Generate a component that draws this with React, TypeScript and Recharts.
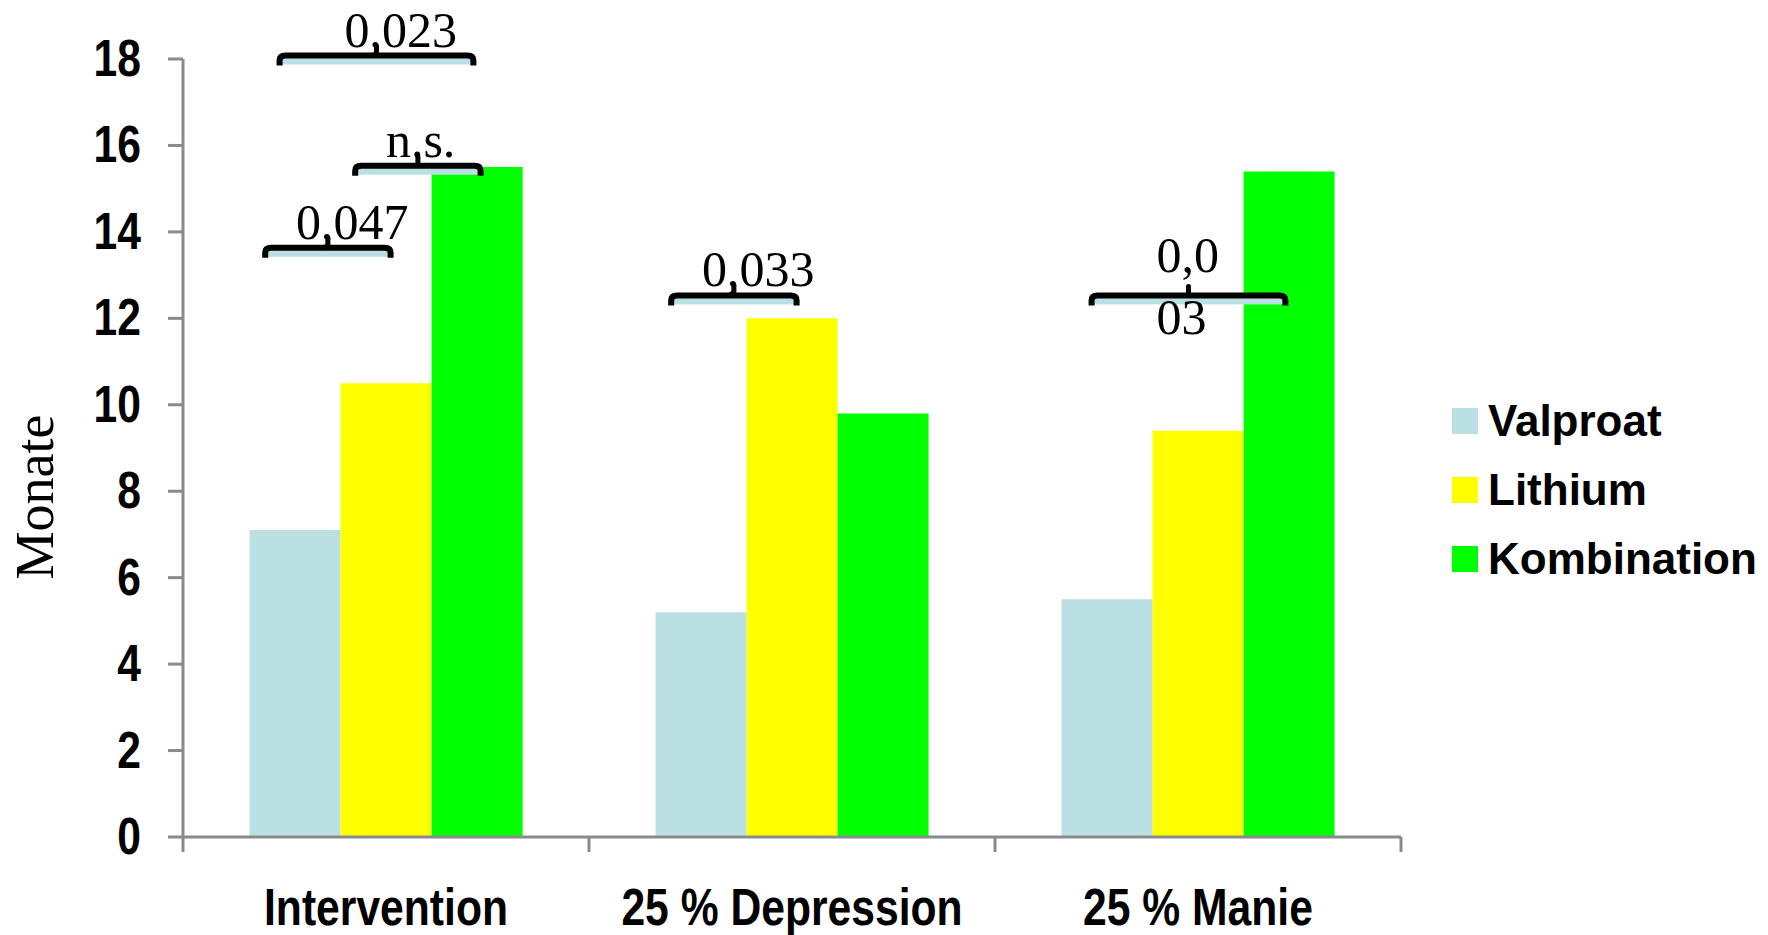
import React from 'react';
import { BarChart, Bar, XAxis, YAxis, Legend, ReferenceArea } from 'recharts';

const categories = ['Intervention', '25 % Depression', '25 % Manie'];
const seriesNames = ['Valproat', 'Lithium', 'Kombination'];
const valproat = [7.1, 5.2, 5.5];
const lithium = [10.5, 12.0, 9.4];
const kombination = [15.5, 9.8, 15.4];
const yTicks = [0, 2, 4, 6, 8, 10, 12, 14, 16, 18];

// significance brackets: group, compared series (index into seriesNames), height in Monate, p-value
const brackets = [
  { category: 'Intervention', from: 0, to: 1, level: 13.7, label: '0,047' },
  { category: 'Intervention', from: 1, to: 2, level: 15.6, label: 'n.s.' },
  { category: 'Intervention', from: 0, to: 2, level: 18.15, label: '0,023' },
  { category: '25 % Depression', from: 0, to: 1, level: 12.6, label: '0,033' },
  { category: '25 % Manie', from: 0, to: 2, level: 12.6, label: '0,003', wrapAt: 3 },
];

const colors = ['#BBE0E3', '#FFFF00', '#00FF00'];
const AXIS_GREY = '#8a8a8a';
const SANS = "'Liberation Sans', Arial, sans-serif";
const SERIF = "'Liberation Serif', 'Times New Roman', serif";
const CATEGORY_GAP = 0.164;

const data = categories.map((name, i) => ({
  name,
  Valproat: valproat[i],
  Lithium: lithium[i],
  Kombination: kombination[i],
}));

function YTick(props: any) {
  const { x, y, payload } = props;
  return (
    <g transform={`translate(${x},${y})`}>
      <text transform="scale(0.82,1)" textAnchor="end" dy={17} fontSize={52} fontWeight="bold"
        fontFamily={SANS} fill="#000">
        {payload.value}
      </text>
    </g>
  );
}

function XTick(props: any) {
  const { x, y, payload, index } = props;
  const half = payload.offset ?? 203;
  return (
    <g>
      <line x1={x - half} x2={x - half} y1={y - 15} y2={y} stroke={AXIS_GREY} strokeWidth={3} />
      {index === categories.length - 1 && (
        <line x1={x + half} x2={x + half} y1={y - 15} y2={y} stroke={AXIS_GREY} strokeWidth={3} />
      )}
      <g transform={`translate(${x},${y})`}>
        <text transform="scale(0.82,1)" textAnchor="middle" dy={73} fontSize={52} fontWeight="bold"
          fontFamily={SANS} fill="#000">
          {payload.value}
        </text>
      </g>
    </g>
  );
}

function YTitle(props: any) {
  const vb = props.viewBox || { x: 0, y: 59, width: 183, height: 778 };
  const cx = vb.x + 53;
  const cy = vb.y + vb.height / 2 + 49;
  return (
    <text x={cx} y={cy} transform={`rotate(-90 ${cx} ${cy})`} textAnchor="middle" fontSize={54}
      fontFamily={SERIF} fill="#000">
      Monate
    </text>
  );
}

// bracket drawn over the group's band; bar positions follow Recharts' own layout
function makeBracket(b: typeof brackets[number]) {
  return function BracketShape(props: any) {
    const { x, y, width } = props;
    const gap = width * CATEGORY_GAP;
    let barW = (width - 2 * gap) / seriesNames.length;
    if (barW > 1) barW = Math.floor(barW);
    const center = (i: number) => x + gap + barW * (i + 0.5);
    const wide = b.to - b.from > 1;
    const left = center(b.from) - (wide ? 0.2 : 0.36) * barW;
    const right = center(b.to) + (wide ? 0.02 : 0.1) * barW;
    const mid = (left + right) / 2;
    const t = y + 3;
    const lines = b.wrapAt ? [b.label.slice(0, b.wrapAt), b.label.slice(b.wrapAt)] : [b.label];
    const firstBase = lines.length > 1 ? y - 20 : y - 6;
    return (
      <g>
        <rect x={left + 3} y={t} width={right - left - 6} height={9} fill="#BBE0E3" />
        <path
          d={`M${left + 3},${t + 10} L${left + 3},${t + 5} Q${left + 3},${t} ${left + 9},${t} L${right - 9},${t} Q${right - 3},${t} ${right - 3},${t + 5} L${right - 3},${t + 10}`}
          stroke="#000" strokeWidth={6} fill="none"
        />
        <line x1={mid} x2={mid} y1={t} y2={t - 9} stroke="#000" strokeWidth={5} strokeLinecap="round" />
        <text fontSize={50} fontFamily={SERIF} fill="#000">
          {lines.map((ln, i) => (
            <tspan key={i} x={mid - 32} y={firstBase + i * 62}>{ln}</tspan>
          ))}
        </text>
      </g>
    );
  };
}

function LegendBox(props: any) {
  const items = props.payload || [];
  // keep the series order Valproat, Lithium, Kombination
  const ordered = seriesNames
    .map((n) => items.find((it: any) => it.value === n || it.dataKey === n))
    .filter(Boolean);
  return (
    <div style={{ display: 'flex', flexDirection: 'column' }}>
      {ordered.map((it: any) => (
        <div key={it.value} style={{ display: 'flex', alignItems: 'center', height: 69 }}>
          <span style={{ width: 26, height: 26, background: it.color, marginRight: 10 }} />
          <span style={{ fontFamily: SANS, fontWeight: 'bold', fontSize: 44, lineHeight: 1, color: '#000' }}>
            {it.value}
          </span>
        </div>
      ))}
    </div>
  );
}

export default function App() {
  return (
    <div style={{ position: 'absolute', left: 0, top: 0, width: 1768, height: 935, background: '#fff' }}>
      <BarChart
        width={1768}
        height={935}
        data={data}
        margin={{ top: 59, right: 367, bottom: 0, left: 0 }}
        barCategoryGap="16.4%"
        barGap={0}
      >
        <XAxis
          dataKey="name"
          height={98}
          axisLine={{ stroke: AXIS_GREY, strokeWidth: 3 }}
          tickLine={false}
          tickSize={15}
          tickMargin={0}
          tick={<XTick />}
          interval={0}
        />
        <YAxis
          width={183}
          domain={[0, 18]}
          ticks={yTicks}
          interval={0}
          axisLine={{ stroke: AXIS_GREY, strokeWidth: 3 }}
          tickLine={{ stroke: AXIS_GREY, strokeWidth: 3 }}
          tickSize={15}
          tickMargin={27}
          tick={<YTick />}
          label={<YTitle />}
        />
        <Legend
          layout="vertical"
          align="center"
          verticalAlign="middle"
          content={<LegendBox />}
          wrapperStyle={{ left: 1452, top: 386, width: 316 }}
        />
        {seriesNames.map((name, i) => (
          <Bar key={name} dataKey={name} fill={colors[i]} isAnimationActive={false} />
        ))}
        {brackets.map((b) => (
          <ReferenceArea
            key={b.category + b.label}
            x1={b.category}
            x2={b.category}
            y1={b.level - 0.3}
            y2={b.level}
            ifOverflow="visible"
            zIndex={2000}
            shape={makeBracket(b)}
          />
        ))}
      </BarChart>
    </div>
  );
}
